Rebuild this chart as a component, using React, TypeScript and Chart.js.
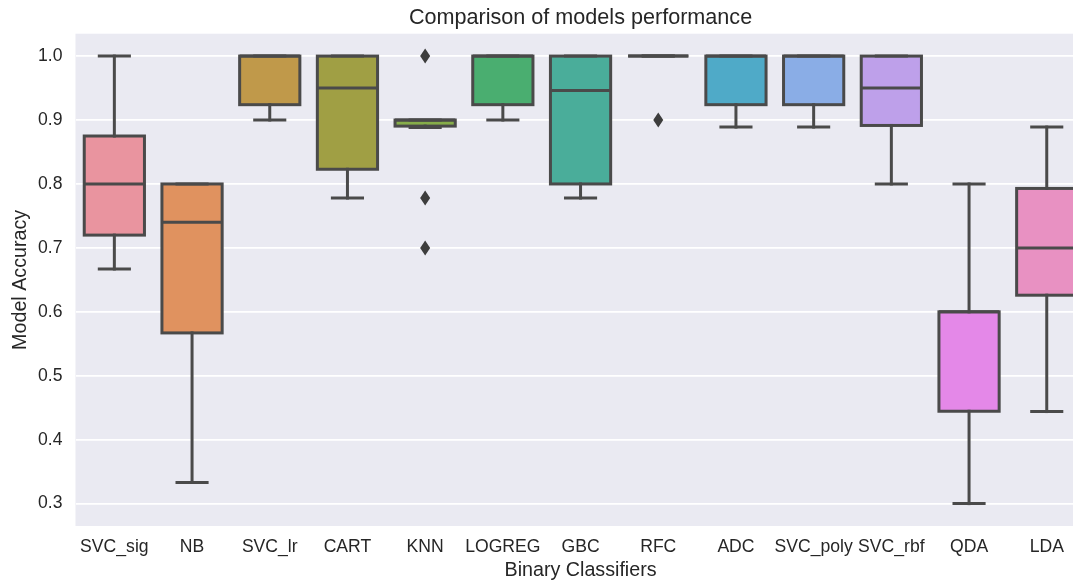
import React, { useEffect, useRef } from "react";
import { Chart, registerables } from "chart.js";

Chart.register(...registerables);

const categories = ["SVC_sig", "NB", "SVC_lr", "CART", "KNN", "LOGREG", "GBC", "RFC", "ADC", "SVC_poly", "SVC_rbf", "QDA", "LDA"];
const whiskerLow = [0.667, 0.333, 0.9, 0.778, 0.8885, 0.9, 0.778, 1.0, 0.889, 0.889, 0.8, 0.3, 0.444];
const q1 = [0.72, 0.567, 0.924, 0.823, 0.8905, 0.924, 0.8, 1.0, 0.924, 0.924, 0.8915, 0.4445, 0.626];
const median = [0.8, 0.74, 1.0, 0.95, 0.9, 1.0, 0.946, 1.0, 1.0, 1.0, 0.95, 0.6, 0.7];
const q3 = [0.875, 0.8, 1.0, 1.0, 0.9, 1.0, 1.0, 1.0, 1.0, 1.0, 1.0, 0.6, 0.793];
const whiskerHigh = [1.0, 0.8, 1.0, 1.0, 0.9, 1.0, 1.0, 1.0, 1.0, 1.0, 1.0, 0.8, 0.889];
const outliers = [[], [], [], [], [1.0, 0.778, 0.7], [], [], [0.9], [], [], [], [], []];
const yTicks = [0.3, 0.4, 0.5, 0.6, 0.7, 0.8, 0.9, 1.0];
const boxColors = ["#e9949f", "#e0925f", "#c0994a", "#a09f44", "#86ad4a", "#4aae70", "#4aad9a", "#4aaab2", "#4faac8", "#8aade6", "#bea0ea", "#e488e8", "#e891c2"];

const LINE = "#4a4a4a";
const TEXT = "#262626";
const FONT = '"Liberation Sans", Arial, sans-serif';

export default function App() {
  const ref = useRef<HTMLCanvasElement>(null);

  useEffect(() => {
    if (!ref.current) return;
    const boxPlugin = {
      id: "boxparts",
      beforeDraw(chart: any) {
        const { ctx, chartArea: a } = chart;
        ctx.save();
        ctx.fillStyle = "#eaeaf2";
        ctx.fillRect(a.left, a.top, a.right - a.left, a.bottom - a.top);
        ctx.restore();
      },
      afterDatasetsDraw(chart: any) {
        const ctx = chart.ctx;
        const ys = chart.scales.y;
        const meta = chart.getDatasetMeta(0);
        const py = (v: number) => ys.getPixelForValue(v);
        ctx.save();
        ctx.strokeStyle = LINE;
        ctx.lineWidth = 3;
        ctx.lineCap = "square";
        const seg = (x1: number, y1: number, x2: number, y2: number) => {
          ctx.beginPath();
          ctx.moveTo(x1, y1);
          ctx.lineTo(x2, y2);
          ctx.stroke();
        };
        meta.data.forEach((bar: any, i: number) => {
          const { x, width } = bar.getProps(["x", "width"], true);
          const left = x - width / 2;
          const capHalf = width / 4;
          if (whiskerLow[i] < q1[i]) {
            seg(x, py(q1[i]), x, py(whiskerLow[i]));
          }
          seg(x - capHalf, py(whiskerLow[i]), x + capHalf, py(whiskerLow[i]));
          if (whiskerHigh[i] > q3[i]) {
            seg(x, py(q3[i]), x, py(whiskerHigh[i]));
          }
          seg(x - capHalf, py(whiskerHigh[i]), x + capHalf, py(whiskerHigh[i]));
          ctx.lineJoin = "miter";
          ctx.strokeRect(left, py(q3[i]), width, py(q1[i]) - py(q3[i]));
          ctx.lineCap = "butt";
          seg(left, py(median[i]), left + width, py(median[i]));
          ctx.lineCap = "square";
          ctx.fillStyle = "#3d3d3d";
          outliers[i].forEach((v) => {
            const cy = py(v);
            ctx.beginPath();
            ctx.moveTo(x, cy - 7.5);
            ctx.lineTo(x + 5, cy);
            ctx.lineTo(x, cy + 7.5);
            ctx.lineTo(x - 5, cy);
            ctx.closePath();
            ctx.fill();
          });
        });
        ctx.restore();
      },
    };

    const chart = new Chart(ref.current, {
      type: "bar",
      data: {
        labels: categories,
        datasets: [
          {
            data: categories.map((_, i) => [q1[i], q3[i]]),
            backgroundColor: boxColors,
            borderWidth: 0,
            barPercentage: 0.775,
            categoryPercentage: 1.0,
          } as any,
        ],
      },
      options: {
        animation: false,
        responsive: false,
        devicePixelRatio: 1,
        layout: { padding: { left: 0, right: 14.4, top: 0, bottom: 0 } },
        plugins: {
          legend: { display: false },
          tooltip: { enabled: false },
          title: {
            display: true,
            text: "Comparison of models performance",
            color: TEXT,
            fullSize: false,
            font: { family: FONT, size: 21.6, weight: "normal", lineHeight: 1.2 },
            padding: { top: 5, bottom: 2.8 },
          },
        },
        scales: {
          x: {
            grid: { display: false, drawTicks: false },
            border: { display: false },
            ticks: { color: TEXT, padding: 11, font: { family: FONT, size: 17.6 }, maxRotation: 0, autoSkip: false },
            title: {
              display: true,
              text: "Binary Classifiers",
              color: TEXT,
              font: { family: FONT, size: 19.7, lineHeight: 1 },
              padding: { top: 0, bottom: 1 },
            },
            afterFit: (s: any) => {
              s.height = 55;
            },
          },
          y: {
            min: 0.265,
            max: 1.035,
            grid: { color: "#ffffff", lineWidth: 1.7, drawTicks: false },
            border: { display: false },
            afterBuildTicks: (s: any) => {
              s.ticks = yTicks.map((v) => ({ value: v }));
            },
            ticks: {
              color: TEXT,
              padding: 13,
              font: { family: FONT, size: 17.6 },
              callback: (v: any) => Number(v).toFixed(1),
            },
            title: {
              display: true,
              text: "Model Accuracy",
              color: TEXT,
              font: { family: FONT, size: 19.7, lineHeight: 1 },
              padding: { top: 11, bottom: 0 },
            },
            afterFit: (s: any) => {
              s.width = 75.5;
            },
          },
        },
      } as any,
      plugins: [boxPlugin],
    });
    return () => chart.destroy();
  }, []);

  return (
    <div style={{ position: "fixed", left: 0, top: 0, width: 1073, height: 581, overflow: "hidden", background: "#fff" }}>
      <canvas ref={ref} width={1100} height={581} style={{ display: "block", width: 1100, height: 581 }} />
    </div>
  );
}
